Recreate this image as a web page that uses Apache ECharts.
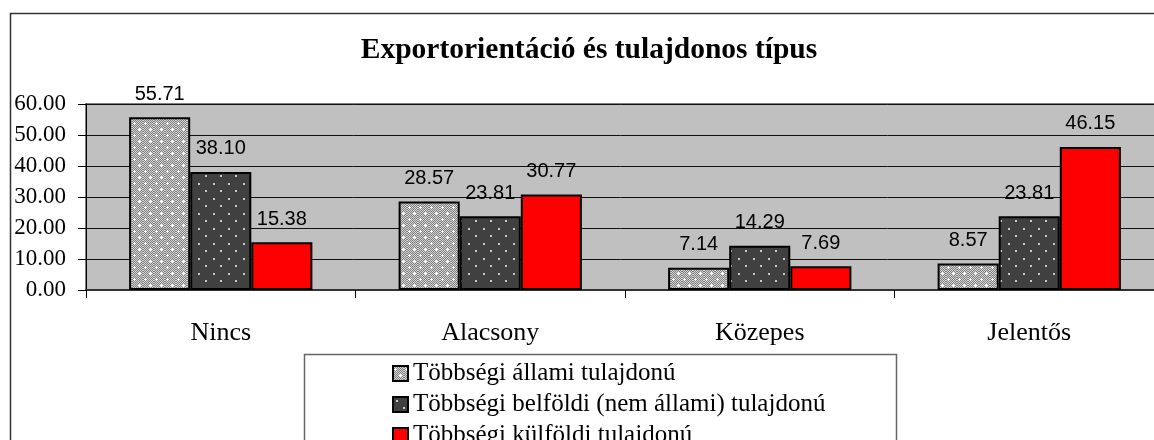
<!DOCTYPE html>
<html>
<head>
<meta charset="utf-8">
<script src="https://cdn.jsdelivr.net/npm/echarts@6.0.0/dist/echarts.min.js"></script>
<style>
  html, body { margin: 0; padding: 0; background: #fff; }
  #chart { width: 1154px; height: 440px; }
</style>
</head>
<body>
<div id="chart"></div>
<script>
// adatok
const categories = ['Nincs', 'Alacsony', 'Közepes', 'Jelentős']
const seriesNames = [
  'Többségi állami tulajdonú',
  'Többségi belföldi (nem állami) tulajdonú',
  'Többségi külföldi tulajdonú',
]
const allamiData = [55.71, 28.57, 7.14, 8.57]
const belfoldiData = [38.10, 23.81, 14.29, 23.81]
const kulfoldiData = [15.38, 30.77, 7.69, 46.15]
const yTicks = { min: 0, max: 60, interval: 10 }

// kitöltési minták (Excel-szerű)
const makeCheckerPattern = () => {
  const c = document.createElement('canvas')
  c.width = 11
  c.height = 12
  const ctx = c.getContext('2d')
  for (let y = 0; y < c.height; y++) {
    for (let x = 0; x < c.width; x++) {
      ctx.fillStyle = (x + y) % 2 ? '#808080' : '#d4d4d4'
      ctx.fillRect(x, y, 1, 1)
    }
  }
  ctx.fillStyle = '#fff'
  const plus = (px, py) => {
    ctx.fillRect(px - 1, py, 3, 1)
    ctx.fillRect(px, py - 1, 1, 3)
  }
  plus(2, 3)
  plus(7, 9)
  return c
}

const makeDotPattern = () => {
  const c = document.createElement('canvas')
  c.width = 15
  c.height = 15
  const ctx = c.getContext('2d')
  ctx.fillStyle = '#404040'
  ctx.fillRect(0, 0, 15, 15)
  ctx.fillStyle = '#c8c8c8'
  ctx.fillRect(3, 3, 2, 2)
  ctx.fillRect(10, 10, 2, 2)
  return c
}

const chart = echarts.init(document.getElementById('chart'))

const barLabel = {
  show: true,
  position: 'top',
  distance: 13,
  color: '#000',
  fontFamily: 'Liberation Sans',
  fontSize: 20,
  formatter: p => p.value.toFixed(2),
}

const makeSeries = (name, data, color) => ({
  name,
  type: 'bar',
  data,
  barGap: '0%',
  barCategoryGap: '32%',
  itemStyle: {
    color,
    borderColor: '#000',
    borderWidth: 2,
  },
  label: barLabel,
})

const options = {
  animation: false,
  title: {
    text: 'Exportorientáció és tulajdonos típus',
    left: 589,
    top: 35,
    padding: 0,
    textAlign: 'center',
    textStyle: {
      fontFamily: 'Liberation Serif',
      fontWeight: 'bold',
      fontSize: 29.5,
      color: '#000',
    },
  },
  grid: {
    left: 86,
    top: 104,
    width: 1078,
    height: 186,
    outerBoundsMode: 'none',
    show: true,
    backgroundColor: '#c0c0c0',
    borderColor: '#808080',
    borderWidth: 2,
  },
  legend: {
    orient: 'vertical',
    left: 392,
    top: 361,
    height: 200,
    padding: 0,
    itemGap: 6,
    itemWidth: 15,
    itemHeight: 15,
    icon: 'rect',
    data: seriesNames,
    textStyle: {
      fontFamily: 'Liberation Serif',
      fontSize: 25,
      lineHeight: 22,
      color: '#000',
    },
  },
  xAxis: {
    type: 'category',
    data: categories,
    axisLine: { lineStyle: { color: '#333', width: 2 } },
    axisTick: { show: true, length: 8, lineStyle: { color: '#000' } },
    axisLabel: {
      margin: 30,
      color: '#000',
      fontFamily: 'Liberation Serif',
      fontSize: 26,
    },
  },
  yAxis: {
    type: 'value',
    min: yTicks.min,
    max: yTicks.max,
    interval: yTicks.interval,
    axisLine: { show: true, lineStyle: { color: '#000', width: 1 } },
    axisTick: { show: true, length: 8, lineStyle: { color: '#000' } },
    splitLine: { lineStyle: { color: '#111', width: 1 } },
    axisLabel: {
      margin: 20,
      color: '#000',
      fontFamily: 'Liberation Serif',
      fontSize: 23,
      formatter: v => v.toFixed(2),
    },
  },
  // keretek: diagram és jelmagyarázat
  graphic: [
    {
      type: 'rect',
      silent: true,
      shape: { x: 10.5, y: 13.5, width: 1300, height: 600 },
      style: { fill: 'none', stroke: '#333', lineWidth: 1.5 },
      z: -10,
    },
    {
      type: 'rect',
      silent: true,
      shape: { x: 304.5, y: 354.5, width: 592, height: 200 },
      style: { fill: 'none', stroke: '#666', lineWidth: 1.5 },
    },
  ],
  series: [
    makeSeries(seriesNames[0], allamiData, { image: makeCheckerPattern(), repeat: 'repeat' }),
    makeSeries(seriesNames[1], belfoldiData, { image: makeDotPattern(), repeat: 'repeat' }),
    makeSeries(seriesNames[2], kulfoldiData, '#ff0000'),
  ],
}

chart.setOption(options)
</script>
</body>
</html>
